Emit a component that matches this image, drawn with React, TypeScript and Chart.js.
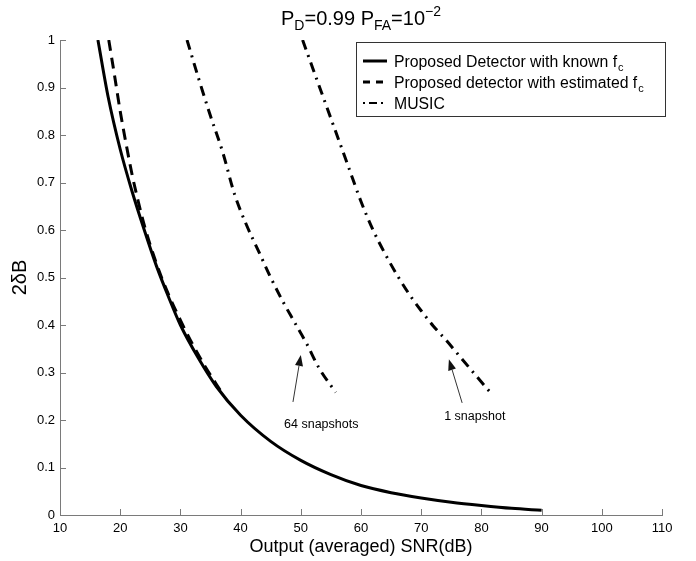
import React, { useEffect, useRef } from "react";
import { Chart, registerables } from "chart.js";

Chart.register(...registerables);

// ---- data ----
const snrKnown = [16.3, 18, 20, 22, 24, 26, 28, 30, 33, 36, 40, 45, 50, 55, 60, 65, 70, 75, 80, 85, 90];
const bwKnown = [1.0, 0.88, 0.77, 0.68, 0.6, 0.525, 0.46, 0.4, 0.33, 0.27, 0.21, 0.155, 0.115, 0.085, 0.062, 0.047, 0.036, 0.027, 0.02, 0.014, 0.01];

const snrEst = [18.1, 19, 20, 21, 22, 23, 24, 26, 28, 30, 32, 34, 37];
const bwEst = [1.0, 0.93, 0.85, 0.78, 0.715, 0.66, 0.61, 0.53, 0.465, 0.41, 0.36, 0.315, 0.255];

const snrMusic64 = [31.1, 33, 35, 37, 39, 41, 43, 45, 47, 49, 51, 53, 55.8];
const bwMusic64 = [1.0, 0.92, 0.84, 0.765, 0.675, 0.61, 0.555, 0.5, 0.45, 0.405, 0.36, 0.31, 0.258];

const snrMusic1 = [50.3, 52, 54, 56, 58, 60, 62, 64, 66, 68, 70, 72, 74, 76, 78, 80, 81.5];
const bwMusic1 = [1.0, 0.94, 0.87, 0.8, 0.73, 0.66, 0.6, 0.55, 0.505, 0.465, 0.43, 0.398, 0.37, 0.34, 0.31, 0.28, 0.258];

const xTicks = [10, 20, 30, 40, 50, 60, 70, 80, 90, 100, 110];
const yTicks = [0, 0.1, 0.2, 0.3, 0.4, 0.5, 0.6, 0.7, 0.8, 0.9, 1];

const legendLabels = ["Proposed Detector with known f", "Proposed detector with estimated f", "MUSIC"];
const legendSubs = ["c", "c", ""];

// annotations (data units)
const annot64 = { text: "64 snapshots", tail: [48.7, 0.238], tip: [50.0, 0.337], label: [53.4, 0.19] };
const annot1 = { text: "1 snapshot", tail: [76.8, 0.236], tip: [74.6, 0.328], label: [78.9, 0.208] };

const FONT = "'Liberation Sans', Arial, Helvetica, sans-serif";
const AXIS_COLOR = "#7a7a7a";
const DASH = [11, 7];
const DASHDOT = [10, 6, 2, 6];

function pts(xs: number[], ys: number[]) {
  return xs.map((x, i) => ({ x, y: ys[i] }));
}

const overlayPlugin = {
  id: "overlay",
  afterDraw(chart: any) {
    const ctx: CanvasRenderingContext2D = chart.ctx;
    const xs = chart.scales.x;
    const ys = chart.scales.y;
    const area = chart.chartArea;
    ctx.save();

    // inward tick marks
    ctx.strokeStyle = AXIS_COLOR;
    ctx.lineWidth = 1;
    ctx.setLineDash([]);
    ctx.beginPath();
    xTicks.forEach((t) => {
      const px = Math.round(xs.getPixelForValue(t)) + 0.5;
      ctx.moveTo(px, area.bottom);
      ctx.lineTo(px, area.bottom - 6);
    });
    yTicks.forEach((t) => {
      const py = Math.round(ys.getPixelForValue(t)) + 0.5;
      ctx.moveTo(area.left, py);
      ctx.lineTo(area.left + 6, py);
    });
    ctx.stroke();

    // title with sub/superscripts
    const big = `20px ${FONT}`;
    const small = `14px ${FONT}`;
    const parts: [string, string, number][] = [
      ["P", big, 0],
      ["D", small, 5],
      ["=0.99 P", big, 0],
      ["FA", small, 5],
      ["=10", big, 0],
      ["\u22122", small, -9],
    ];
    let total = 0;
    parts.forEach(([t, f]) => {
      ctx.font = f;
      total += ctx.measureText(t).width;
    });
    let cx = (area.left + area.right) / 2 - total / 2;
    ctx.fillStyle = "#000";
    ctx.textBaseline = "alphabetic";
    ctx.textAlign = "left";
    parts.forEach(([t, f, dy]) => {
      ctx.font = f;
      ctx.fillText(t, cx, 25 + dy);
      cx += ctx.measureText(t).width;
    });

    // axis titles
    ctx.font = `18px ${FONT}`;
    ctx.textAlign = "center";
    ctx.textBaseline = "middle";
    ctx.fillText("Output (averaged) SNR(dB)", (area.left + area.right) / 2, 547);
    ctx.save();
    ctx.translate(20, (area.top + area.bottom) / 2);
    ctx.rotate(-Math.PI / 2);
    ctx.font = `20px ${FONT}`;
    ctx.fillText("2\u03b4B", 0, 0);
    ctx.restore();

    // legend
    const bx = 356, by = 42, bw = 309, bh = 74;
    ctx.fillStyle = "#fff";
    ctx.fillRect(bx, by, bw, bh);
    ctx.strokeStyle = "#333";
    ctx.lineWidth = 1;
    ctx.strokeRect(bx + 0.5, by + 0.5, bw, bh);
    const rows = [61, 82, 103];
    const dashes = [[], [7, 6], [2, 4, 8, 4, 2, 4]];
    rows.forEach((ry, i) => {
      ctx.strokeStyle = "#000";
      ctx.lineWidth = i === 2 ? 2 : 3;
      ctx.setLineDash(dashes[i]);
      ctx.beginPath();
      ctx.moveTo(363, ry);
      ctx.lineTo(387, ry);
      ctx.stroke();
      ctx.setLineDash([]);
      ctx.fillStyle = "#000";
      ctx.textAlign = "left";
      ctx.textBaseline = "alphabetic";
      ctx.font = `15.8px ${FONT}`;
      ctx.fillText(legendLabels[i], 394, ry + 5.5);
      if (legendSubs[i]) {
        const w = ctx.measureText(legendLabels[i]).width;
        ctx.font = `11px ${FONT}`;
        ctx.fillText(legendSubs[i], 394 + w + 1, ry + 10);
      }
    });

    // annotations with arrows
    [annot64, annot1].forEach((a) => {
      const tx = xs.getPixelForValue(a.tail[0]);
      const ty = ys.getPixelForValue(a.tail[1]);
      const hx = xs.getPixelForValue(a.tip[0]);
      const hy = ys.getPixelForValue(a.tip[1]);
      const ang = Math.atan2(hy - ty, hx - tx);
      const hl = 11, hw = 4;
      ctx.strokeStyle = "#333";
      ctx.fillStyle = "#111";
      ctx.lineWidth = 1;
      ctx.beginPath();
      ctx.moveTo(tx, ty);
      ctx.lineTo(hx - Math.cos(ang) * hl, hy - Math.sin(ang) * hl);
      ctx.stroke();
      ctx.beginPath();
      ctx.moveTo(hx, hy);
      ctx.lineTo(hx - Math.cos(ang) * hl - Math.sin(ang) * hw, hy - Math.sin(ang) * hl + Math.cos(ang) * hw);
      ctx.lineTo(hx - Math.cos(ang) * hl + Math.sin(ang) * hw, hy - Math.sin(ang) * hl - Math.cos(ang) * hw);
      ctx.closePath();
      ctx.fill();
      ctx.fillStyle = "#000";
      ctx.font = `12.5px ${FONT}`;
      ctx.textAlign = "center";
      ctx.textBaseline = "middle";
      ctx.fillText(a.text, xs.getPixelForValue(a.label[0]), ys.getPixelForValue(a.label[1]));
    });

    ctx.restore();
  },
};

export default function App() {
  const ref = useRef<HTMLCanvasElement | null>(null);
  useEffect(() => {
    document.body.style.margin = "0";
    document.body.style.overflow = "hidden";
    document.documentElement.style.overflow = "hidden";
    if (!ref.current) return;
    const line = (data: any, dash: number[]) => ({
      data,
      borderColor: "#000",
      borderWidth: 3,
      borderDash: dash,
      pointRadius: 0,
      fill: false,
      cubicInterpolationMode: "monotone" as const,
    });
    const chart = new Chart(ref.current, {
      type: "line",
      data: {
        datasets: [
          line(pts(snrKnown, bwKnown), []),
          line(pts(snrEst, bwEst), DASH),
          line(pts(snrMusic64, bwMusic64), DASHDOT),
          line(pts(snrMusic1, bwMusic1), DASHDOT),
        ],
      },
      options: {
        animation: false,
        responsive: false,
        maintainAspectRatio: false,
        layout: { padding: { left: 0, top: 40, right: 34, bottom: 0 } },
        plugins: { legend: { display: false }, title: { display: false }, tooltip: { enabled: false } },
        scales: {
          x: {
            type: "linear",
            min: 10,
            max: 110,
            afterFit: (s: any) => {
              s.height = 46;
            },
            afterBuildTicks: (s: any) => {
              s.ticks = xTicks.map((v) => ({ value: v }));
            },
            ticks: { font: { family: FONT, size: 13 }, color: "#000", padding: 6, maxRotation: 0, autoSkip: false },
            grid: { display: false, drawTicks: false },
            border: { display: true, color: AXIS_COLOR, width: 1 },
          },
          y: {
            type: "linear",
            min: 0,
            max: 1,
            afterFit: (s: any) => {
              s.width = 60;
            },
            afterBuildTicks: (s: any) => {
              s.ticks = yTicks.map((v) => ({ value: v }));
            },
            ticks: {
              font: { family: FONT, size: 13 },
              color: "#000",
              padding: 5,
              autoSkip: false,
              callback: (v: any) => String(Math.round(Number(v) * 10) / 10),
            },
            grid: { display: false, drawTicks: false },
            border: { display: true, color: AXIS_COLOR, width: 1 },
          },
        },
      },
      plugins: [overlayPlugin],
    });
    return () => chart.destroy();
  }, []);
  return (
    <div style={{ width: 696, height: 561, background: "#fff" }}>
      <canvas ref={ref} width={696} height={561} style={{ display: "block" }} />
    </div>
  );
}
